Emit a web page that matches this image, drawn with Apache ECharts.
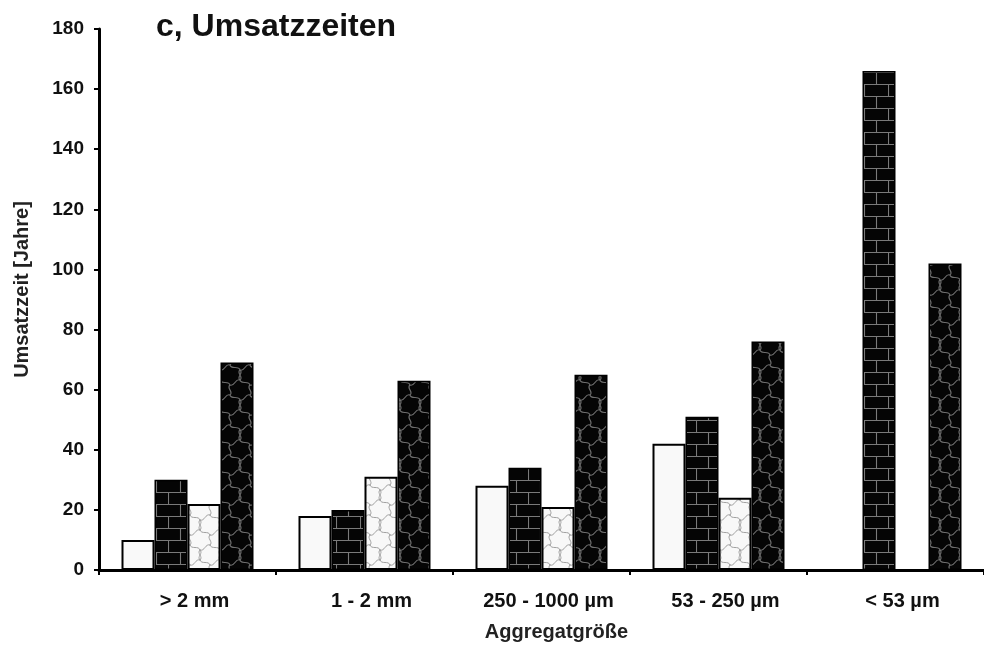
<!DOCTYPE html>
<html>
<head>
<meta charset="utf-8">
<script src="https://cdn.jsdelivr.net/npm/echarts@6/dist/echarts.min.js"></script>
<style>
html,body{margin:0;padding:0;background:#fff;}
#chart{width:984px;height:653px;}
</style>
</head>
<body>
<div id="chart"></div>
<script>
var categories = ['> 2 mm', '1 - 2 mm', '250 - 1000 µm', '53 - 250 µm', '< 53 µm'];
var seriesA = [10, 18, 28, 42, null];
var seriesB = [30, 20, 34, 51, 166];
var seriesC = [22, 31, 21, 24, null];
var seriesD = [69, 63, 65, 76, 102];
var yTicks = [0, 20, 40, 60, 80, 100, 120, 140, 160, 180];

function brickPattern() {
  var c = document.createElement('canvas');
  c.width = 24; c.height = 24;
  var g = c.getContext('2d');
  g.fillStyle = '#050505'; g.fillRect(0, 0, 24, 24);
  g.strokeStyle = '#7a7a7a'; g.lineWidth = 1.1;
  g.beginPath();
  g.moveTo(0, 0.5); g.lineTo(24, 0.5);
  g.moveTo(0, 12.5); g.lineTo(24, 12.5);
  g.moveTo(12.5, 0); g.lineTo(12.5, 12);
  g.moveTo(0.5, 12); g.lineTo(0.5, 24);
  g.stroke();
  return c;
}
function hexPattern(bg, line, lw) {
  var W = 20, s = 10, H = 30;
  var c = document.createElement('canvas');
  c.width = W; c.height = H;
  var g = c.getContext('2d');
  g.fillStyle = bg; g.fillRect(0, 0, W, H);
  g.strokeStyle = line; g.lineWidth = lw; g.lineCap = 'round';
  function edge(x1, y1, x2, y2, dx, dy, k) {
    var vx = x2 - x1, vy = y2 - y1, L = Math.sqrt(vx * vx + vy * vy);
    var px = -vy / L * k, py = vx / L * k;
    g.moveTo(x1 + dx, y1 + dy);
    g.bezierCurveTo(x1 + vx * 0.3 + px + dx, y1 + vy * 0.3 + py + dy,
                    x1 + vx * 0.7 - px + dx, y1 + vy * 0.7 - py + dy,
                    x2 + dx, y2 + dy);
  }
  g.beginPath();
  for (var ox = -1; ox <= 1; ox++) {
    for (var oy = -1; oy <= 1; oy++) {
      var dx = ox * W, dy = oy * H;
      edge(W / 2, -0.5 * s, W / 2, 0.5 * s, dx, dy, 4);
      edge(W / 2, 0.5 * s, W, s, dx, dy, 4);
      edge(W, s, W, 2 * s, dx, dy, 4);
      edge(W, 2 * s, W / 2, 2.5 * s, dx, dy, 4);
      edge(W / 2, 2.5 * s, 0, 2 * s, dx, dy, 4);
      edge(0, 2 * s, 0, s, dx, dy, -4);
      edge(0, s, W / 2, 0.5 * s, dx, dy, 4);
    }
  }
  g.stroke();
  return c;
}

var font = '"Liberation Sans", Arial, sans-serif';
var chart = echarts.init(document.getElementById('chart'));
var option = {
  animation: false,
  backgroundColor: '#ffffff',
  title: {
    text: 'c, Umsatzzeiten',
    left: 151, top: 6,
    textStyle: { fontFamily: font, fontSize: 32, fontWeight: 'bold', color: '#111' }
  },
  grid: { left: 99, right: 0, top: 29, bottom: 83, containLabel: false },
  xAxis: {
    type: 'category',
    data: categories,
    name: 'Aggregatgröße',
    nameLocation: 'middle',
    nameGap: 52,
    nameTextStyle: { fontFamily: font, fontSize: 20, fontWeight: 'bold', color: '#222', padding: [0, 0, 0, 30] },
    axisLine: { lineStyle: { color: '#000', width: 3 } },
    axisTick: { show: true, length: 5, lineStyle: { color: '#000', width: 2 } },
    axisLabel: { fontFamily: font, fontSize: 20, fontWeight: 'bold', color: '#111', margin: 21, padding: [0, 0, 0, 14] },
    splitLine: { show: false }
  },
  yAxis: {
    type: 'value',
    min: yTicks[0], max: yTicks[yTicks.length - 1], interval: 20,
    name: 'Umsatzzeit [Jahre]',
    nameLocation: 'middle',
    nameGap: 67,
    nameTextStyle: { fontFamily: font, fontSize: 20, fontWeight: 'bold', color: '#222', padding: [0, 0, 0, 20] },
    axisLine: { show: true, lineStyle: { color: '#000', width: 3 } },
    axisTick: { show: true, length: 5, lineStyle: { color: '#000', width: 2 } },
    axisLabel: { fontFamily: font, fontSize: 19, fontWeight: 'bold', color: '#111', margin: 15 },
    splitLine: { show: false }
  },
  series: [
    { name: 'A', type: 'bar', data: seriesA, barWidth: 33, barGap: '0%',
      itemStyle: { color: '#f9f9f9', borderColor: '#000', borderWidth: 2 } },
    { name: 'B', type: 'bar', data: seriesB, barWidth: 33, barGap: '0%',
      itemStyle: { color: { image: brickPattern(), repeat: 'repeat' }, borderColor: '#000', borderWidth: 1.5 } },
    { name: 'C', type: 'bar', data: seriesC, barWidth: 33, barGap: '0%',
      itemStyle: { color: { image: hexPattern('#f8f8f8', '#a0a0a0', 1), repeat: 'repeat' }, borderColor: '#000', borderWidth: 2 } },
    { name: 'D', type: 'bar', data: seriesD, barWidth: 33, barGap: '0%',
      itemStyle: { color: { image: hexPattern('#050505', '#6e6e6e', 1.2), repeat: 'repeat' }, borderColor: '#000', borderWidth: 1.5 } }
  ]
};
chart.setOption(option);
</script>
</body>
</html>
